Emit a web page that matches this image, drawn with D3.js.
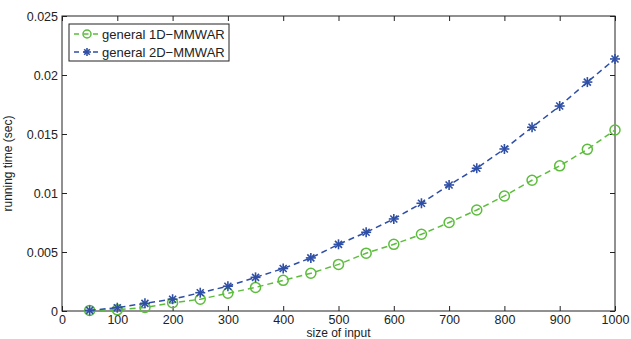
<!DOCTYPE html>
<html><head><meta charset="utf-8">
<script src="https://cdn.jsdelivr.net/npm/d3@7"></script>
<style>body{margin:0;background:#fff}svg{display:block}text{font-family:"Liberation Sans",Arial,sans-serif}</style>
</head><body>
<script>
const sizes = [50,100,150,200,250,300,350,400,450,500,550,600,650,700,750,800,850,900,950,1000];
const time1D = [0.00005,0.0001,0.0003,0.0007,0.001,0.0015,0.002,0.0026,0.0032,0.00395,0.0049,0.00565,0.0065,0.0075,0.00856,0.00975,0.01108,0.0123,0.0137,0.01534];
const time2D = [0.00005,0.00028,0.00065,0.001,0.00155,0.0021,0.00285,0.0036,0.0045,0.00565,0.00667,0.0078,0.00913,0.01068,0.0121,0.01373,0.01557,0.01737,0.0194,0.02136];
const xTicks = [0,100,200,300,400,500,600,700,800,900,1000];
const xTickLabels = ["0","100","200","300","400","500","600","700","800","900","1000"];
const yTicks = [0,0.005,0.01,0.015,0.02,0.025];
const yTickLabels = ["0","0.005","0.01","0.015","0.02","0.025"];
const seriesNames = ["general 1D\u2212MMWAR","general 2D\u2212MMWAR"];
const colors = ["#5cbd3c","#2f4fa6"];

const W=631,H=339, L=62,R=615,T=16,B=311;
const svg=d3.select("body").append("svg").attr("width",W).attr("height",H);
const x=d3.scaleLinear().domain([0,1000]).range([L,R]);
const y=d3.scaleLinear().domain([0,0.025]).range([B,T]);

const fs=12.5;
const gx=svg.append("g").attr("transform",`translate(0,${B})`).call(d3.axisBottom(x).tickValues(xTicks).tickFormat((d,i)=>xTickLabels[i]).tickSizeInner(-5).tickSizeOuter(0).tickPadding(4));
const gy=svg.append("g").attr("transform",`translate(${L},0)`).call(d3.axisLeft(y).tickValues(yTicks).tickFormat((d,i)=>yTickLabels[i]).tickSizeInner(-5).tickSizeOuter(0).tickPadding(4));
const gt=svg.append("g").attr("transform",`translate(0,${T})`).call(d3.axisTop(x).tickValues(xTicks).tickFormat("").tickSizeInner(-5).tickSizeOuter(0));
const gr=svg.append("g").attr("transform",`translate(${R},0)`).call(d3.axisRight(y).tickValues(yTicks).tickFormat("").tickSizeInner(-5).tickSizeOuter(0));
[gx,gy,gt,gr].forEach(g=>{g.select(".domain").remove();g.selectAll("line").attr("stroke","#222");g.selectAll("text").attr("font-size",fs).attr("fill","#222").style("font-family","Liberation Sans, Arial, sans-serif");});
svg.append("rect").attr("x",L).attr("y",T).attr("width",R-L).attr("height",B-T).attr("fill","none").attr("stroke","#222").attr("stroke-width",1);

svg.append("text").attr("x",x(500)).attr("y",337).attr("text-anchor","middle").attr("font-size",12).attr("fill","#222").text("size of input");
svg.append("text").attr("transform",`translate(12,${(T+B)/2}) rotate(-90)`).attr("text-anchor","middle").attr("font-size",12).attr("fill","#222").text("running time (sec)");

const line=d3.line().x(d=>x(d[0])).y(d=>y(d[1]));
const data=[time1D,time2D];
function circleMarker(g,cx,cy,c,r){g.append("circle").attr("cx",cx).attr("cy",cy).attr("r",r||5).attr("fill","none").attr("stroke",c).attr("stroke-width",1.5);}
function starMarker(g,cx,cy,c,r){const s=r||5;const p=[[-s,0,s,0],[0,-s,0,s],[-s*0.7,-s*0.7,s*0.7,s*0.7],[-s*0.7,s*0.7,s*0.7,-s*0.7]];
 p.forEach(q=>g.append("line").attr("x1",cx+q[0]).attr("y1",cy+q[1]).attr("x2",cx+q[2]).attr("y2",cy+q[3]).attr("stroke",c).attr("stroke-width",1.6));}
const markers=[circleMarker,starMarker];
data.forEach((vals,i)=>{
  const pts=sizes.map((s,j)=>[s,vals[j]]);
  const g=svg.append("g");
  g.append("path").attr("d",line(pts)).attr("fill","none").attr("stroke",colors[i]).attr("stroke-width",1.5).attr("stroke-dasharray","6,4");
  pts.forEach(p=>markers[i](g,x(p[0]),y(p[1]),colors[i]));
});

// legend
const lg=svg.append("g");
lg.append("rect").attr("x",69).attr("y",24).attr("width",160).attr("height",37).attr("fill","#fff").attr("stroke","#222").attr("stroke-width",1);
seriesNames.forEach((n,i)=>{
  const yy=34+i*18;
  lg.append("line").attr("x1",74).attr("x2",100).attr("y1",yy).attr("y2",yy).attr("stroke",colors[i]).attr("stroke-width",1.5).attr("stroke-dasharray","5,4.5");
  markers[i](lg,87,yy,colors[i],4);
  lg.append("text").attr("x",102).attr("y",yy+4.5).attr("font-size",13).attr("fill","#222").text(n);
});
</script>
</body></html>
